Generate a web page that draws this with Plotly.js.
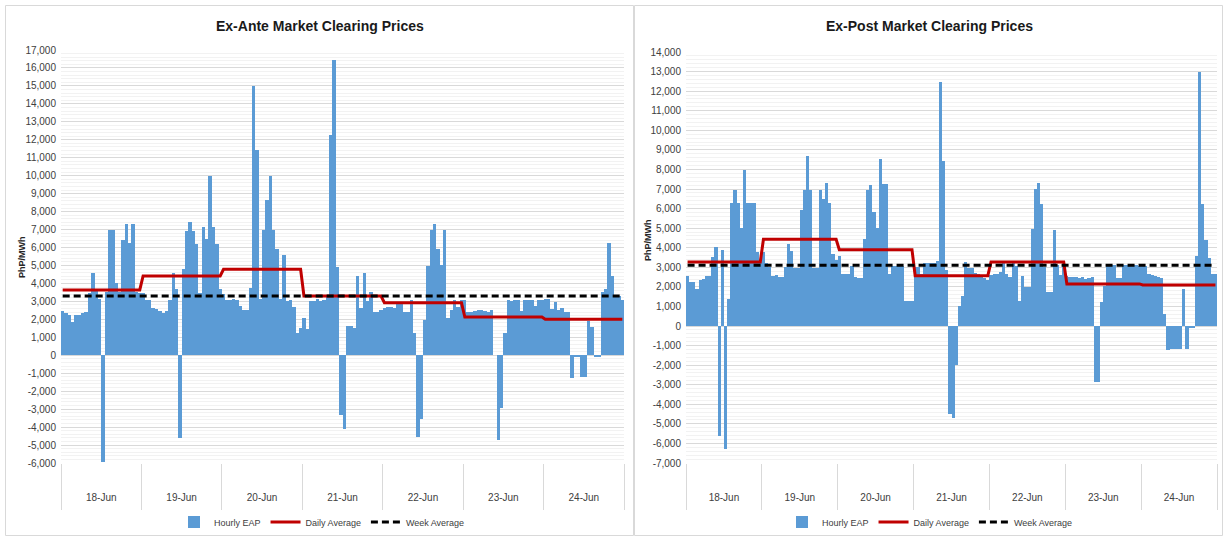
<!DOCTYPE html>
<html>
<head>
<meta charset="utf-8">
<script src="https://cdn.plot.ly/plotly-3.0.1.min.js"></script>
<style>
html,body{margin:0;padding:0;background:#fff;}
#chart{width:1223px;height:537px;}
</style>
</head>
<body>
<div id="chart"></div>
<script>
// ---------------- DATA ----------------
const days = ['18-Jun','19-Jun','20-Jun','21-Jun','22-Jun','23-Jun','24-Jun'];

// Ex-Ante hourly EAP (PhP/MWh), 24 values per day
const exAnteHourly = [
  2470, 2380, 2250, 1860, 2230, 2260, 2340, 2410, 3490, 4600, 3700, 3150, -5950, 3500, 7000, 7000, 4000, 3500, 6400, 7300, 6250, 7300, 3500, 3450,
  3450, 3100, 3100, 2650, 2560, 2470, 2380, 2470, 3100, 4600, 3710, -4580, 4790, 6920, 7420, 6920, 6180, 3490, 7160, 6460, 9980, 7160, 6180, 3710,
  3400, 3050, 3050, 3150, 3100, 2750, 2500, 2500, 3750, 15000, 11450, 3150, 6950, 8650, 10000, 6950, 5900, 3150, 5600, 3000, 3100, 2700, 1250, 1500,
  2100, 1480, 3020, 3020, 3120, 3020, 3050, 3300, 12250, 16450, 4900, -3350, -4100, 1650, 1650, 1500, 4400, 2650, 4600, 3000, 3500, 2400, 2400, 2500,
  2650, 2700, 2700, 2650, 2900, 2900, 2400, 2400, 3050, 1250, -4550, -3550, 1950, 4950, 6950, 7300, 5900, 5000, 7000, 2100, 2500, 3100, 2700, 3100,
  3100, 2400, 2400, 2450, 2500, 2500, 2450, 2400, 2500, 0, -4700, -2950, 1250, 3100, 3000, 3100, 3050, 2450, 3100, 3100, 3050, 2750, 3100, 3100,
  3150, 3150, 2550, 2950, 2500, 2650, 2400, 2400, -1250, -100, -100, -1200, -1200, 1900, 1600, -100, -100, 3550, 3700, 6250, 4400, 3350, 3300, 3050
];
const exAnteDailyAvg = [3640, 4420, 4790, 3300, 2930, 2130, 2000];
const exAnteWeekAvg = 3300;

// Ex-Post hourly EAP (PhP/MWh)
const exPostHourly = [
  2540, 2250, 2250, 1910, 2330, 2390, 2540, 2540, 3530, 4040, -5640, 3900, -6270, 1400, 6290, 6970, 6290, 5010, 7990, 6290, 6290, 6290, 3770, 3360,
  3770, 3220, 3020, 2560, 2590, 2500, 2500, 3020, 4210, 3830, 2960, 2980, 5910, 6970, 8670, 6970, 2960, 2960, 6970, 6510, 7310, 6290, 3700, 3360,
  3600, 2650, 2650, 2650, 3050, 2500, 2450, 2450, 4450, 6950, 7200, 5850, 5000, 8550, 7250, 7250, 2650, 3050, 3050, 3050, 3050, 1300, 1300, 1300,
  3000, 3000, 2650, 3200, 3200, 3200, 3200, 3300, 12450, 8450, 2850, -4500, -4700, -2000, 1000, 1550, 3250, 2950, 2950, 2700, 2650, 2500, 2450, 2350,
  2600, 2650, 2650, 2750, 3200, 2650, 2500, 3200, 3050, 1300, 2550, 2000, 2000, 4950, 7000, 7300, 6250, 3000, 1750, 1750, 4900, 3100, 2600, 3100,
  2550, 2500, 2500, 2500, 2450, 2500, 2400, 2450, 2500, -2850, -2850, 1250, 2050, 3100, 3100, 3100, 2450, 2450, 3100, 3100, 3100, 3100, 3100, 3050,
  3050, 3050, 2650, 2600, 2550, 2500, 2450, 600, -1250, -1200, -1200, -1200, -1200, 1900, -1150, -100, -100, 3600, 13000, 6250, 4400, 3450, 2650, 2650
];
const exPostDailyAvg = [3270, 4430, 3900, 2570, 3270, 2150, 2100];
const exPostWeekAvg = 3100;

const exAnteTicks = [17000,16000,15000,14000,13000,12000,11000,10000,9000,8000,7000,6000,5000,4000,3000,2000,1000,0,-1000,-2000,-3000,-4000,-5000,-6000];
const exPostTicks = [14000,13000,12000,11000,10000,9000,8000,7000,6000,5000,4000,3000,2000,1000,0,-1000,-2000,-3000,-4000,-5000,-6000,-7000];

// ---------------- BUILD ----------------
const hours = exAnteHourly.map((_, i) => i);
const dailyLine = d => hours.map(h => d[Math.floor(h / 24)]);
const weekLine = w => hours.map(() => w);
const dayCenters = days.map((_, i) => i * 24 + 11.5);
const dayBounds = [0,1,2,3,4,5,6,7].map(i => i * 24 - 0.5);
const fmt = v => v.toLocaleString('en-US');

const FONT = '"Liberation Sans Narrow", "Arial Narrow", "Liberation Sans", Arial, sans-serif';
const BLUE = '#5B9BD5', RED = '#C00000';

function traces(hourly, daily, week, xa, ya, lg) {
  return [
    {type:'bar', x:hours, y:hourly, name:'Hourly EAP', xaxis:xa, yaxis:ya, legend:lg,
     marker:{color:BLUE, line:{width:0}}, hoverinfo:'y'},
    {type:'scatter', mode:'lines', x:hours, y:dailyLine(daily), name:'Daily Average', xaxis:xa, yaxis:ya, legend:lg,
     line:{color:RED, width:3}},
    {type:'scatter', mode:'lines', x:hours, y:weekLine(week), name:'Week Average', xaxis:xa, yaxis:ya, legend:lg,
     line:{color:'#000000', width:3, dash:'7px,4px'}}
  ];
}

function xAxis(domain, anchor) {
  return {
    domain: domain, anchor: anchor, range:[-0.5, 167.5],
    tickvals: dayCenters, ticktext: days, ticks:'', showgrid:false, zeroline:false, showline:false,
    ticklabelstandoff: 27,
    tickfont:{family:FONT, size:10, color:'#404040'},
    minor:{tickvals: dayBounds, ticks:'outside', ticklen:46, tickcolor:'#d9d9d9', tickwidth:1, showgrid:false},
    fixedrange:true
  };
}
function yAxis(domain, anchor, range, ticks) {
  return {
    domain: domain, anchor: anchor, range: range,
    tickvals: ticks, ticktext: ticks.map(fmt), ticks:'',
    ticklabelstandoff: 4,
    showgrid:true, gridcolor:'#d9d9d9', gridwidth:1, zeroline:false, showline:false,
    tickfont:{family:FONT, size:10, color:'#404040'},
    minor:{dtick:200, showgrid:true, gridcolor:'#f2f2f2', gridwidth:1},
    fixedrange:true
  };
}

const data = [].concat(
  traces(exAnteHourly, exAnteDailyAvg, exAnteWeekAvg, 'x', 'y', 'legend'),
  traces(exPostHourly, exPostDailyAvg, exPostWeekAvg, 'x2', 'y2', 'legend2')
);

const H = 537, W = 1223;
const layout = {
  width: W, height: H,
  margin:{l:0, r:0, t:0, b:0},
  paper_bgcolor:'#ffffff', plot_bgcolor:'#ffffff',
  showlegend:true, bargap:0,
  font:{family:FONT, color:'#404040'},
  xaxis: xAxis([61/W, 624/W], 'y'),
  yaxis: yAxis([1-463/H, 1-50/H], 'x', [-6000, 17000], exAnteTicks),
  xaxis2: xAxis([686/W, 1217/W], 'y2'),
  yaxis2: yAxis([1-463/H, 1-52/H], 'x2', [-7000, 14000], exPostTicks),
  legend:{orientation:'h', x:322/W, xanchor:'center', y:1-522/H, yanchor:'middle',
          font:{family:FONT, size:9, color:'#404040'}, bgcolor:'rgba(0,0,0,0)', itemwidth:30, tracegroupgap:0},
  legend2:{orientation:'h', x:930/W, xanchor:'center', y:1-522/H, yanchor:'middle',
          font:{family:FONT, size:9, color:'#404040'}, bgcolor:'rgba(0,0,0,0)', itemwidth:30, tracegroupgap:0},
  annotations:[
    {text:'<b>Ex-Ante Market Clearing Prices</b>', xref:'paper', yref:'paper', x:320/W, y:1-26/H,
     xanchor:'center', yanchor:'middle', showarrow:false, font:{family:FONT, size:14, color:'#1a1a1a'}},
    {text:'<b>Ex-Post Market Clearing Prices</b>', xref:'paper', yref:'paper', x:929/W, y:1-26/H,
     xanchor:'center', yanchor:'middle', showarrow:false, font:{family:FONT, size:14, color:'#1a1a1a'}},
    {text:'<b>PhP/MWh</b>', xref:'paper', yref:'paper', x:22/W, y:1-257/H, textangle:-90,
     xanchor:'center', yanchor:'middle', showarrow:false, font:{family:'Liberation Sans, Arial, sans-serif', size:9, color:'#262626'}},
    {text:'<b>PhP/MWh</b>', xref:'paper', yref:'paper', x:648/W, y:1-240/H, textangle:-90,
     xanchor:'center', yanchor:'middle', showarrow:false, font:{family:'Liberation Sans, Arial, sans-serif', size:9, color:'#262626'}}
  ],
  shapes:[
    {type:'rect', xref:'paper', yref:'paper', x0:5.5/W, x1:633.5/W, y0:1-535.5/H, y1:1-5.5/H, line:{color:'#d9d9d9', width:1}, layer:'below'},
    {type:'rect', xref:'paper', yref:'paper', x0:634.5/W, x1:1222.5/W, y0:1-535.5/H, y1:1-5.5/H, line:{color:'#d9d9d9', width:1}, layer:'below'}
  ]
};

Plotly.newPlot('chart', data, layout, {displayModeBar:false, staticPlot:true});
</script>
</body>
</html>
